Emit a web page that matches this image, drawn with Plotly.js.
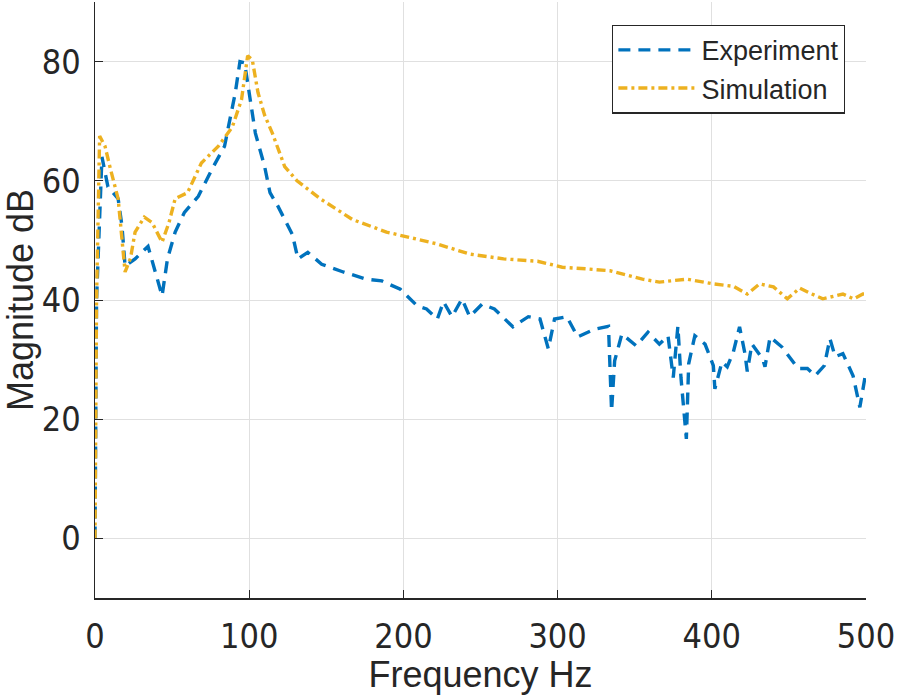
<!DOCTYPE html>
<html>
<head>
<meta charset="utf-8">
<script src="https://cdn.plot.ly/plotly-3.0.1.min.js"></script>
<style>html,body{margin:0;padding:0;background:#fff;}#chart{width:898px;height:695px;}</style>
</head>
<body>
<div id="chart"></div>
<script>
const expFreq = [0,1,4.5,8.4,15,17.5,19.5,26,34.4,39,43.5,47,52,58,67,76,84,91,94,97,99,104,110,113.5,118.7,122,128,131.6,138,147,161,176,186,198,209,215,222,226,231.5,238,243,251,259,271,281,288.6,294,298,306,313,324,333,335,337,341.7,351,358.6,366,371.6,375,378,380,383.5,385,389,395.6,401,402,406.6,410,414,418,421.5,423,426,433,434.5,437.8,445.5,456,462,467,473,476.6,480,485,491.6,496,500];
const expMag = [0,40,64,59,57,52.4,45.7,46.9,49,44.7,40.7,46.9,51.4,54.7,57.4,62,65.8,74.8,80,79.8,76.5,68,62.4,58,55.7,54,51,46.9,48,46,44.7,43.5,43.2,41.8,39,38.5,36.8,39.7,37.2,40.2,37.2,39.3,38.5,35.5,37.2,36.8,31.8,36.8,37.2,33.8,35.1,35.6,21.4,29.8,34.3,32.3,34.6,32.6,34,27,35.6,27,16.7,29.3,34,32.6,29,25.1,29.6,28.8,31.3,35.5,31,28,32.6,30.1,28.8,33.8,32.1,28.5,28.5,27.3,29,33.5,30.5,31,27.3,22,28];
const simFreq = [0,1,3,6.5,10,15,19.5,23,26,32,37,43.5,48,52,60,69,80,89,95,99,102,105.7,110,115,123,131,146,167,189,200,222,243,265,287,303,320,334,355,366,384,401,414,423,431,440,449,457,465,472,485,492,498,500];
const simMag = [0,40,67.5,65.8,62,57,44.7,47,51.4,53.9,53,49.7,53,57,58,63,65.8,69,73.6,81,80.3,74.8,71,68,62.4,60,57,53.5,51.4,50.7,49.4,47.7,46.9,46.5,45.5,45.2,44.9,43.5,43,43.5,42.7,42.3,41,42.7,42.2,40.2,42,41,40.2,41,40.2,41,41];
const xTicks = [0,100,200,300,400,500];
const yTicks = [0,20,40,60,80];
const seriesNames = ['Experiment','Simulation'];

const FONT = '"Liberation Sans", Arial, sans-serif';
const NARROW = '"Liberation Sans Narrow", "Arial Narrow", "DejaVu Sans Condensed", sans-serif';
const INK = '#262626';

const traces = [
  {x: expFreq, y: expMag, type: 'scatter', mode: 'lines', name: seriesNames[0],
   line: {color: '#0072BD', width: 3.4, dash: '12px,8px'}},
  {x: simFreq, y: simMag, type: 'scatter', mode: 'lines', name: seriesNames[1],
   line: {color: '#EDB120', width: 3.4, dash: '9px,4px,3px,4px'}}
];

const layout = {
  width: 898, height: 695,
  margin: {l: 95, r: 32, t: 2, b: 97},
  paper_bgcolor: '#fff', plot_bgcolor: '#fff',
  font: {family: FONT, color: INK, size: 22},
  showlegend: true,
  legend: {x: 0.973, xanchor: 'right', y: 0.962, yanchor: 'top',
    bgcolor: '#fff', bordercolor: INK, borderwidth: 1.2,
    font: {family: FONT, size: 27, color: INK}, tracegroupgap: 0,
    itemwidth: 78},
  xaxis: {range: [0, 500], tickvals: xTicks, ticktext: xTicks.map(String),
    ticks: 'inside', ticklen: 8, tickcolor: INK, tickwidth: 1,
    showline: true, linecolor: INK, linewidth: 1.5, mirror: false,
    showgrid: true, gridcolor: '#e0e0e0', gridwidth: 1, zeroline: false,
    ticklabelstandoff: 8,
    tickfont: {family: NARROW, size: 34, color: INK},
    title: {text: 'Frequency Hz', font: {family: FONT, size: 36, color: INK}, standoff: 4}},
  yaxis: {range: [-10, 90], tickvals: yTicks, ticktext: yTicks.map(String),
    ticks: 'inside', ticklen: 8, tickcolor: INK, tickwidth: 1,
    showline: true, linecolor: INK, linewidth: 1.5, mirror: false,
    showgrid: true, gridcolor: '#e0e0e0', gridwidth: 1, zeroline: false,
    ticklabelstandoff: 6,
    tickfont: {family: NARROW, size: 34, color: INK},
    title: {text: 'Magnitude dB', font: {family: FONT, size: 36, color: INK}, standoff: 6}}
};

Plotly.newPlot('chart', traces, layout, {displayModeBar: false, staticPlot: true});
</script>
</body>
</html>
